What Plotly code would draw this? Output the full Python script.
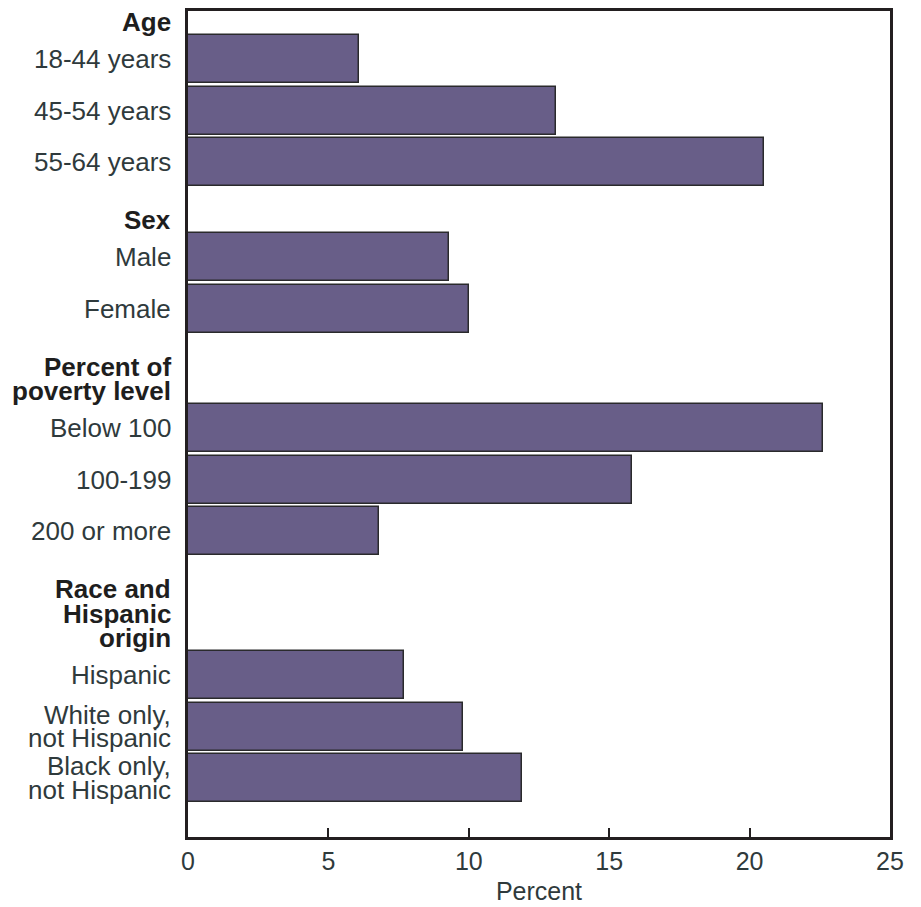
import plotly.graph_objects as go

# ---------------- data ----------------
age_labels = ["18-44 years", "45-54 years", "55-64 years"]
age_values = [6.1, 13.1, 20.5]
sex_labels = ["Male", "Female"]
sex_values = [9.3, 10.0]
poverty_labels = ["Below 100", "100-199", "200 or more"]
poverty_values = [22.6, 15.8, 6.8]
race_labels = ["Hispanic", "White only,\nnot Hispanic", "Black only,\nnot Hispanic"]
race_values = [7.7, 9.8, 11.9]
group_titles = ["Age", "Sex", "Percent of\npoverty level", "Race and\nHispanic\norigin"]
x_ticks = [0, 5, 10, 15, 20, 25]
x_title = "Percent"

groups = [
    (group_titles[0], age_labels, age_values),
    (group_titles[1], sex_labels, sex_values),
    (group_titles[2], poverty_labels, poverty_values),
    (group_titles[3], race_labels, race_values),
]

# ---------------- page geometry ----------------
PAGE_W, PAGE_H = 921, 907
BODY = 8                       # default body margin of the html page
PLOT_L, PLOT_R, PLOT_T, PLOT_B = 188, 890, 11, 837   # plot area on the page
W, H = PAGE_W - BODY, PAGE_H - BODY
M_L, M_T = PLOT_L - BODY, PLOT_T - BODY
M_R, M_B = W - (PLOT_R - BODY), H - (PLOT_B - BODY)

FIRST = 22.0      # first header line
LINE = 24.5       # header line spacing
LAB_LINE = 23.5   # label line spacing
HDR_GAP = 37.0    # last header line -> first bar
ROW = 51.5        # bar to bar
GRP_GAP = 58.0    # last bar -> next header
BAR_W = 48

BAR_COLOR = "#685e88"
EDGE = "#2a2a2c"
FRAME = "#231f20"
TXT = "#2f3a3c"
HDR = "#1e1e1e"
FONT = "Liberation Sans, Arial, Helvetica, sans-serif"

ys, xs, annotations = [], [], []
cursor = FIRST
for title, labels, values in groups:
    lines = title.split("\n")
    for i, ln in enumerate(lines):
        annotations.append(dict(
            x=0, xref="paper", xshift=-15, xanchor="right",
            y=cursor + i * LINE, yref="y", yanchor="middle",
            text="<b>" + ln + "</b>", showarrow=False,
            font=dict(family=FONT, size=26, color=HDR)))
    cursor = cursor + (len(lines) - 1) * LINE + HDR_GAP
    for j, (lab, val) in enumerate(zip(labels, values)):
        yc = cursor + j * ROW
        ys.append(yc)
        xs.append(val)
        parts = lab.split("\n")
        n = len(parts)
        for k, p in enumerate(parts):
            annotations.append(dict(
                x=0, xref="paper", xshift=-15, xanchor="right",
                y=yc + (k - (n - 1) / 2) * LAB_LINE, yref="y", yanchor="middle",
                text=p, showarrow=False,
                font=dict(family=FONT, size=26, color=TXT)))
    cursor = cursor + (len(labels) - 1) * ROW + GRP_GAP

fig = go.Figure(go.Bar(
    x=xs, y=ys, orientation="h", width=BAR_W,
    marker=dict(color=BAR_COLOR, line=dict(color=EDGE, width=1.5)),
    hoverinfo="skip", showlegend=False))

fig.update_layout(
    width=W, height=H,
    margin=dict(l=M_L, r=M_R, t=M_T, b=M_B, autoexpand=False),
    paper_bgcolor="white", plot_bgcolor="white",
    annotations=annotations,
    font=dict(family=FONT),
    bargap=0,
)
fig.update_xaxes(
    range=[0, 25], tickvals=x_ticks, ticktext=[str(t) for t in x_ticks],
    ticks="inside", ticklen=9, tickwidth=2, tickcolor=FRAME,
    showline=True, linewidth=3, linecolor=FRAME, mirror=True,
    showgrid=False, zeroline=False,
    tickfont=dict(family=FONT, size=25, color=TXT),
    title=dict(text=x_title, font=dict(family=FONT, size=25, color=TXT), standoff=9),
    automargin=False, fixedrange=True)
fig.update_yaxes(
    range=[PLOT_B, PLOT_T], showticklabels=False, ticks="",
    showline=True, linewidth=3, linecolor=FRAME, mirror=True,
    showgrid=False, zeroline=False, automargin=False, fixedrange=True)

fig.write_html("out.html", config={"displayModeBar": False})
